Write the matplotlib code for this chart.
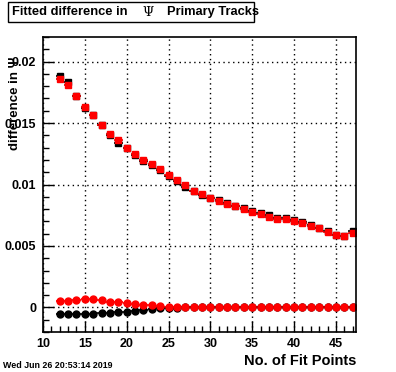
import numpy as np
import matplotlib
matplotlib.use("Agg")
import matplotlib.pyplot as plt
from matplotlib.patches import Rectangle
from matplotlib.ticker import MultipleLocator

plt.rcParams["font.family"] = ["Liberation Sans", "DejaVu Sans"]
plt.rcParams["font.weight"] = "bold"

fit_points = list(range(12, 48))

# upper series: squares
red_sq = [0.01859, 0.01810, 0.01718, 0.01634, 0.01564, 0.01485, 0.01409, 0.01358,
          0.01295, 0.01246, 0.01203, 0.01165, 0.01124, 0.01076, 0.01035, 0.00993,
          0.00951, 0.00919, 0.00889, 0.00864, 0.00840, 0.00824, 0.00799, 0.00775,
          0.00759, 0.00734, 0.00718, 0.00718, 0.00702, 0.00685, 0.00661, 0.00645,
          0.00612, 0.00588, 0.00580, 0.00604]
black_sq = [0.01880, 0.01830, 0.01718, 0.01626, 0.01562, 0.01483, 0.01401, 0.01334,
            0.01293, 0.01244, 0.01192, 0.01158, 0.01122, 0.01072, 0.01028, 0.00982,
            0.00944, 0.00915, 0.00893, 0.00870, 0.00848, 0.00828, 0.00808, 0.00782,
            0.00766, 0.00755, 0.00728, 0.00728, 0.00712, 0.00692, 0.00668, 0.00650,
            0.00620, 0.00590, 0.00580, 0.00620]

# lower series: circles
red_circ = [0.00049, 0.00049, 0.00057, 0.00065, 0.00065, 0.00057, 0.00040, 0.00040,
            0.00033, 0.00024, 0.00016, 0.00016, 0.00008, 0.00004, 0.00003, 0.00003,
            0.00002, 0.00002, 0.00002, 0.00002, 0.00002, 0.00002, 0.00002, 0.00002,
            0.00002, 0.00001, 0.00002, 0.00000, 0.00001, 0.00002, 0.00002, 0.00002,
            0.00002, 0.00002, 0.00002, 0.00002]
black_circ = [-0.00052, -0.00050, -0.00050, -0.00050, -0.00050, -0.00048, -0.00044, -0.00035,
              -0.00035, -0.00030, -0.00022, -0.00016, -0.00008, -0.00003, -0.00001, 0.00000,
              0.00000, 0.00000, 0.00000, 0.00000, 0.00000, 0.00000, 0.00000, 0.00000,
              0.00000, 0.00000, 0.00000, 0.00000, 0.00000, 0.00000, 0.00000, 0.00000,
              0.00000, 0.00000, 0.00000, 0.00000]

fig = plt.figure(figsize=(3.96, 3.72), dpi=100)
W, H = 396, 372
ax = fig.add_axes([43 / W, 1 - 332 / H, (356 - 43) / W, (332 - 37) / H])

x = np.array(fit_points)
kw = dict(xerr=0.5, yerr=0.00008, linestyle="none", elinewidth=1.2, capsize=0)
ax.errorbar(x, black_sq, fmt="s", color="black", ms=5, **kw)
ax.errorbar(x, red_sq, fmt="s", color="red", ms=5, **kw)
ax.errorbar(x, black_circ, fmt="o", color="black", ms=5, **kw)
ax.errorbar(x, red_circ, fmt="o", color="red", ms=5, **kw)

ax.set_xlim(10, 47.4)
ax.set_ylim(-0.002, 0.022)
ax.xaxis.set_major_locator(MultipleLocator(5))
ax.xaxis.set_minor_locator(MultipleLocator(1))
ax.yaxis.set_major_locator(MultipleLocator(0.005))
ax.yaxis.set_minor_locator(MultipleLocator(0.001))
ax.yaxis.set_major_formatter(plt.FuncFormatter(lambda v, p: "0" if abs(v) < 1e-9 else f"{v:g}"))

ax.tick_params(which="both", direction="in", top=False, right=False, labelsize=9, width=1)
ax.tick_params(axis="x", which="major", length=8, pad=4)
ax.tick_params(axis="x", which="minor", length=4)
ax.tick_params(axis="y", which="major", length=8, pad=5)
ax.tick_params(axis="y", which="minor", length=4)
for lab in ax.get_xticklabels() + ax.get_yticklabels():
    lab.set_fontweight("bold")
ax.grid(True, which="major", color="black", linestyle=(0, (1, 2.5)), linewidth=1)
for s in ax.spines.values():
    s.set_linewidth(1.2)

# title box
fig.patches.append(Rectangle((8 / W, 1 - 22 / H), 246 / W, 20 / H, transform=fig.transFigure,
                             facecolor="white", edgecolor="black", linewidth=1))
fig.text(12 / W, 1 - 12 / H, "Fitted difference in", fontsize=9.3, fontweight="bold", va="center")
fig.text(148 / W, 1 - 12 / H, "\u03a8", fontsize=9.3, family=["DejaVu Serif"], fontweight="normal",
         va="center", ha="center")
fig.text(167 / W, 1 - 12 / H, "Primary Tracks", fontsize=9.3, fontweight="bold", va="center")

fig.text(15 / W, 1 - 57 / H, "difference in \u03a8", rotation=90, fontsize=9.5, fontweight="bold",
         ha="center", va="top")
fig.text(356 / W, 1 - 361 / H, "No. of Fit Points", fontsize=10.5, fontweight="bold", ha="right", va="center")
fig.text(3 / W, 1 - 365 / H, "Wed Jun 26 20:53:14 2019", fontsize=6.4, fontweight="bold", ha="left", va="center")

fig.savefig("out.png", dpi=100)
